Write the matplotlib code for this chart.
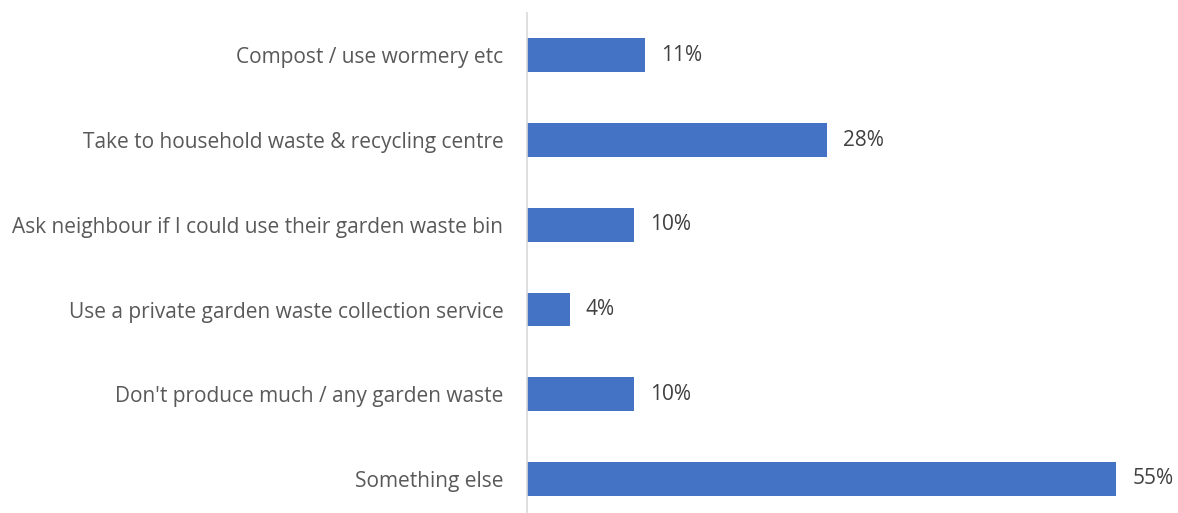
import matplotlib
matplotlib.use("Agg")
import matplotlib.pyplot as plt

categories = [
    "Compost / use wormery etc",
    "Take to household waste & recycling centre",
    "Ask neighbour if I could use their garden waste bin",
    "Use a private garden waste collection service",
    "Don't produce much / any garden waste",
    "Something else",
]
values = [11, 28, 10, 4, 10, 55]
value_labels = ["11%", "28%", "10%", "4%", "10%", "55%"]

plt.rcParams['font.family'] = ['Open Sans', 'DejaVu Sans']
W, H = 1178, 513
fig = plt.figure(figsize=(W / 100, H / 100), dpi=100)
left = 527 / W
right = 1170 / W
top_px, bot_px = 13, 512
ax = fig.add_axes([left, 1 - bot_px / H, right - left, (bot_px - top_px) / H])

y = list(range(len(categories)))
ax.barh(y, values, height=0.40, color="#4472C4")
ax.set_xlim(0, 60)
ax.set_ylim(5.39, -0.50)
for yi, v, lab in zip(y, values, value_labels):
    ax.annotate(lab, (v, yi), xytext=(16, 0), textcoords="offset pixels",
                va="center", ha="left", fontsize=15, color="#404040")
ax.set_yticks(y)
ax.set_yticklabels(categories, fontsize=15, color="#595959")
ax.tick_params(axis="y", length=0, pad=17)
ax.set_xticks([])
for s in ["top", "right", "bottom"]:
    ax.spines[s].set_visible(False)
ax.spines["left"].set_color("#D9D9D9")
ax.spines["left"].set_linewidth(1.2)
fig.savefig("out.png", dpi=100)
